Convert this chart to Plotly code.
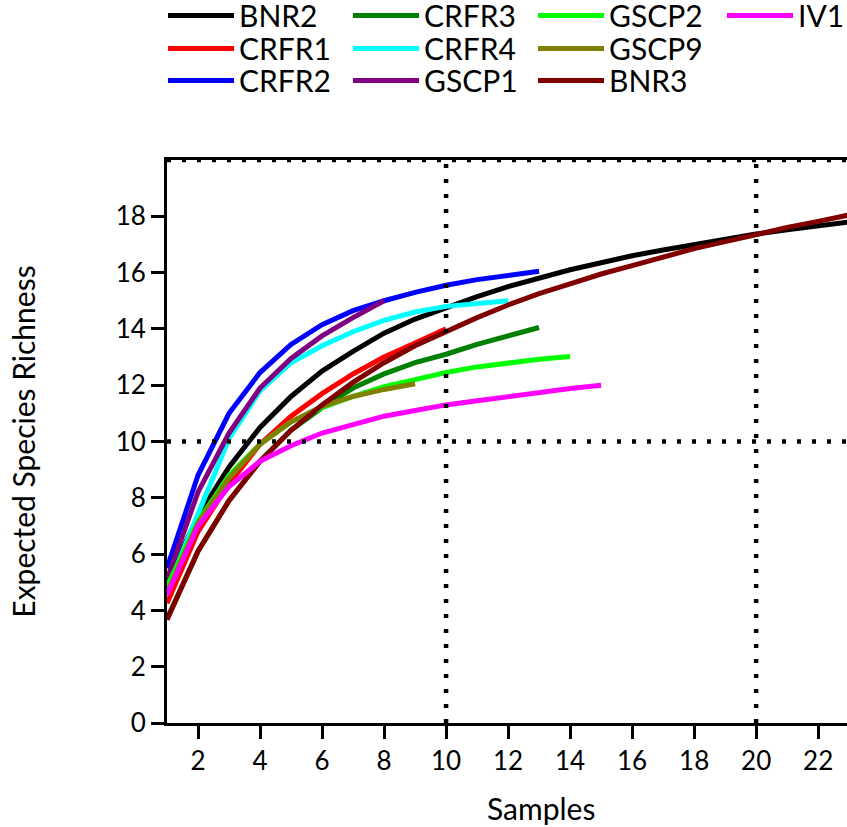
import plotly.graph_objects as go

samples_23 = list(range(1, 24))
samples_10 = list(range(1, 11))
samples_13 = list(range(1, 14))
samples_12 = list(range(1, 13))
samples_8 = list(range(1, 9))
samples_14 = list(range(1, 15))
samples_9 = list(range(1, 10))
samples_15 = list(range(1, 16))

BNR2 = [5.0, 7.35, 9.1, 10.5, 11.6, 12.5, 13.2, 13.85, 14.35, 14.75, 15.15, 15.5, 15.8,
        16.1, 16.35, 16.6, 16.8, 17.0, 17.2, 17.37, 17.52, 17.66, 17.8]
CRFR1 = [4.25, 6.8, 8.5, 9.9, 10.9, 11.7, 12.4, 13.0, 13.5, 14.0]
CRFR2 = [5.5, 8.8, 11.0, 12.45, 13.45, 14.15, 14.65, 15.0, 15.3, 15.55, 15.75, 15.9, 16.05]
CRFR3 = [3.7, 6.1, 7.9, 9.3, 10.4, 11.2, 11.9, 12.4, 12.8, 13.1, 13.45, 13.75, 14.05]
CRFR4 = [4.75, 7.4, 10.1, 11.8, 12.8, 13.4, 13.9, 14.3, 14.6, 14.8, 14.9, 15.0]
GSCP1 = [5.1, 8.2, 10.3, 11.9, 12.95, 13.75, 14.4, 15.0]
GSCP2 = [4.85, 7.15, 8.8, 9.9, 10.7, 11.2, 11.6, 11.95, 12.2, 12.45, 12.65, 12.8, 12.92, 13.02]
GSCP9 = [4.6, 7.1, 8.7, 9.9, 10.7, 11.25, 11.6, 11.85, 12.05]
BNR3 = [3.67, 6.1, 7.9, 9.3, 10.4, 11.3, 12.1, 12.8, 13.4, 13.9, 14.4, 14.85, 15.25,
        15.6, 15.95, 16.25, 16.55, 16.85, 17.1, 17.37, 17.6, 17.82, 18.05]
IV1 = [4.55, 7.0, 8.4, 9.3, 9.85, 10.3, 10.6, 10.9, 11.1, 11.3, 11.45, 11.6, 11.75, 11.88, 12.0]

series = [
    ("BNR2", samples_23, BNR2, "#000000", "legend"),
    ("CRFR1", samples_10, CRFR1, "#ff0000", "legend2"),
    ("CRFR2", samples_13, CRFR2, "#0000ff", "legend3"),
    ("CRFR3", samples_13, CRFR3, "#008000", "legend"),
    ("CRFR4", samples_12, CRFR4, "#00ffff", "legend2"),
    ("GSCP1", samples_8, GSCP1, "#800080", "legend3"),
    ("GSCP2", samples_14, GSCP2, "#00ff00", "legend"),
    ("GSCP9", samples_9, GSCP9, "#808000", "legend2"),
    ("BNR3", samples_23, BNR3, "#800000", "legend3"),
    ("IV1", samples_15, IV1, "#ff00ff", "legend4"),
]

ref_x = [10, 20]
ref_y = [10, 20]

x_ticks = list(range(2, 24, 2))
y_ticks = list(range(0, 20, 2))

FONT = "Lato"

fig = go.Figure()
for name, xs, ys, color, lg in series:
    fig.add_trace(go.Scatter(x=xs, y=ys, mode="lines", name=name,
                             line=dict(color=color, width=5), legend=lg))

dot = "4px,11px"
for xv in ref_x:
    fig.add_shape(type="line", xref="x", yref="y", x0=xv, x1=xv, y0=0, y1=20,
                  line=dict(color="black", width=4.5, dash=dot), layer="above")
for yv in ref_y:
    fig.add_shape(type="line", xref="paper", yref="y", x0=0, x1=1, y0=yv, y1=yv,
                  line=dict(color="black", width=4.5, dash=dot), layer="above")

leg_common = dict(orientation="h", xref="container", yref="container",
                  xanchor="left", yanchor="middle", itemwidth=66, entrywidth=104,
                  font=dict(family=FONT, size=30, color="black"),
                  bgcolor="rgba(0,0,0,0)", tracegroupgap=0, traceorder="normal")
W, H = 847, 827
row_y = [17, 50, 82]
def ly(r):
    return 1 - (r - 1.5) / H

fig.update_layout(
    width=W, height=H,
    margin=dict(l=167, r=0, t=160, b=104, autoexpand=False),
    plot_bgcolor="white", paper_bgcolor="white",
    font=dict(family=FONT, size=26, color="black"),
    showlegend=True,
    legend=dict(x=163 / W, y=ly(row_y[0]), **leg_common),
    legend2=dict(x=163 / W, y=ly(row_y[1]), **leg_common),
    legend3=dict(x=163 / W, y=ly(row_y[2]), **leg_common),
    legend4=dict(x=722 / W, y=ly(row_y[0]), **leg_common),
    xaxis=dict(range=[1, 22.93], tickvals=x_ticks, ticks="outside", ticklen=13,
               tickwidth=3, tickcolor="black", showline=True, linewidth=3,
               linecolor="black", mirror=True, showgrid=False, zeroline=False,
               tickfont=dict(family=FONT, size=26, color="black")),
    yaxis=dict(range=[0, 20], tickvals=y_ticks, ticks="outside", ticklen=13,
               tickwidth=3, tickcolor="black", showline=True, linewidth=3,
               linecolor="black", showgrid=False, zeroline=False,
               tickfont=dict(family=FONT, size=26, color="black"),
               title=dict(text="Expected Species Richness",
                          font=dict(family=FONT, size=30, color="black"), standoff=72)),
)

fig.add_annotation(text="Samples", xref="paper", yref="paper", x=0.55, y=0,
                   yshift=-85, showarrow=False, xanchor="center", yanchor="middle",
                   font=dict(family=FONT, size=30, color="black"))

fig.write_html("out.html", config={"displayModeBar": False},
               post_script="document.body.style.margin='0px';")
